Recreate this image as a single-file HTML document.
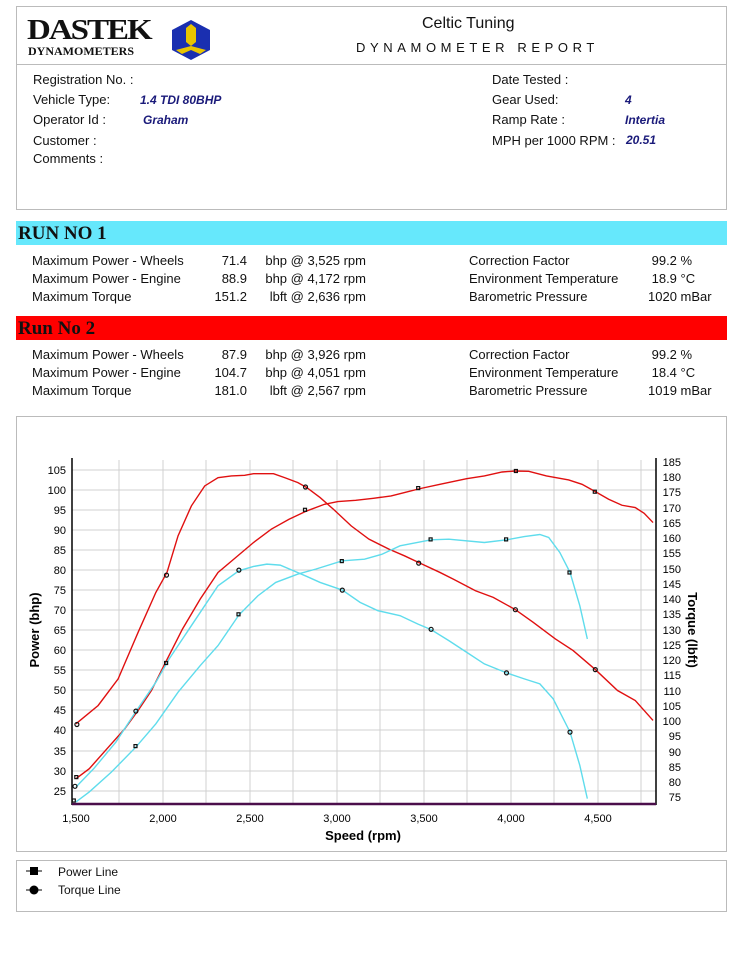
<!DOCTYPE html>
<html><head><meta charset="utf-8"><style>
body{margin:0;width:748px;height:980px;background:#fff;position:relative;font-family:"Liberation Sans",Arial,sans-serif;font-size:13px;color:#111;overflow:hidden}
.a{position:absolute;white-space:nowrap;line-height:1}
.v{color:#1a1a7a;font-weight:bold;font-style:italic}
.box{position:absolute;border:1px solid #bbb;box-sizing:border-box}
.bar{position:absolute;left:16px;width:711px;height:24px;font-family:"Liberation Serif",serif;font-weight:bold;font-size:19px;line-height:25px;padding-left:2px;box-sizing:border-box}
.r{text-align:right}
</style></head><body>
<div class="box" style="left:16px;top:6px;width:711px;height:204px"></div>
<div style="position:absolute;left:16px;top:64px;width:711px;height:1px;background:#bbb"></div>
<div class="a" style="left:27px;top:17px;font-family:'Liberation Serif',serif;font-weight:bold;font-size:33px;letter-spacing:-2px;transform:scaleY(0.85);transform-origin:top">DASTEK</div>
<div class="a" style="left:28px;top:45px;font-family:'Liberation Serif',serif;font-weight:bold;font-size:12px">DYNAMOMETERS</div>
<svg class="a" style="left:170px;top:20px" width="42" height="40" viewBox="0 0 42 40"><polygon points="21,0 40,10 40,30 21,40 2,30 2,10" fill="#1a2fb0"/><polygon points="21,4 26,8 26,22 21,26 16,22 16,8" fill="#e8c400"/><polygon points="21,26 36,30 30,34 21,30 12,34 6,30" fill="#e8c400"/></svg>
<div class="a" style="left:422px;top:16px;font-size:16px">Celtic Tuning</div>
<div class="a" style="left:356px;top:41px;font-size:13px;letter-spacing:4.6px">DYNAMOMETER REPORT</div>
<div class="a" style="left:33px;top:73px">Registration No. :</div>
<div class="a" style="left:33px;top:93px">Vehicle Type:</div><div class="a v" style="left:140px;top:94px;font-size:12px">1.4 TDI 80BHP</div>
<div class="a" style="left:33px;top:113px">Operator Id :</div><div class="a v" style="left:143px;top:114px;font-size:12px">Graham</div>
<div class="a" style="left:33px;top:134px">Customer :</div>
<div class="a" style="left:33px;top:152px">Comments :</div>
<div class="a" style="left:492px;top:73px">Date Tested :</div>
<div class="a" style="left:492px;top:93px">Gear Used:</div><div class="a v" style="left:625px;top:94px;font-size:12px">4</div>
<div class="a" style="left:492px;top:113px">Ramp Rate :</div><div class="a v" style="left:625px;top:114px;font-size:12px">Intertia</div>
<div class="a" style="left:492px;top:134px">MPH per 1000 RPM :</div><div class="a v" style="left:626px;top:134px;font-size:12px">20.51</div>

<div class="bar" style="top:221px;background:#66e8fc">RUN NO 1</div>
<div class="bar" style="top:316px;background:#ff0000">Run No 2</div>

<div class="a" style="left:32px;top:252px;line-height:18px">Maximum Power - Wheels<br>Maximum Power - Engine<br>Maximum Torque</div>
<div class="a r" style="left:190px;width:57px;top:252px;line-height:18px">71.4<br>88.9<br>151.2</div>
<div class="a r" style="left:250px;width:116px;top:252px;line-height:18px">bhp @ 3,525 rpm<br>bhp @ 4,172 rpm<br>lbft @ 2,636 rpm</div>
<div class="a" style="left:469px;top:252px;line-height:18px">Correction Factor<br>Environment Temperature<br>Barometric Pressure</div>
<div class="a" style="left:648px;top:252px;line-height:18px">&nbsp;99.2 %<br>&nbsp;18.9 °C<br>1020 mBar</div>

<div class="a" style="left:32px;top:346px;line-height:18px">Maximum Power - Wheels<br>Maximum Power - Engine<br>Maximum Torque</div>
<div class="a r" style="left:190px;width:57px;top:346px;line-height:18px">87.9<br>104.7<br>181.0</div>
<div class="a r" style="left:250px;width:116px;top:346px;line-height:18px">bhp @ 3,926 rpm<br>bhp @ 4,051 rpm<br>lbft @ 2,567 rpm</div>
<div class="a" style="left:469px;top:346px;line-height:18px">Correction Factor<br>Environment Temperature<br>Barometric Pressure</div>
<div class="a" style="left:648px;top:346px;line-height:18px">&nbsp;99.2 %<br>&nbsp;18.4 °C<br>1019 mBar</div>

<div class="box" style="left:16px;top:416px;width:711px;height:436px"></div>
<svg class="a" style="left:0;top:0" width="748" height="980" viewBox="0 0 748 980" font-family="Liberation Sans, sans-serif" font-size="11">
<g stroke="#d0d0d0" stroke-width="1">
<line x1="72" y1="470" x2="656" y2="470"/><line x1="72" y1="490" x2="656" y2="490"/><line x1="72" y1="510" x2="656" y2="510"/><line x1="72" y1="530" x2="656" y2="530"/><line x1="72" y1="550" x2="656" y2="550"/><line x1="72" y1="570" x2="656" y2="570"/><line x1="72" y1="590" x2="656" y2="590"/><line x1="72" y1="610" x2="656" y2="610"/><line x1="72" y1="630" x2="656" y2="630"/><line x1="72" y1="650" x2="656" y2="650"/><line x1="72" y1="670" x2="656" y2="670"/><line x1="72" y1="690" x2="656" y2="690"/><line x1="72" y1="710" x2="656" y2="710"/><line x1="72" y1="730" x2="656" y2="730"/><line x1="72" y1="751" x2="656" y2="751"/><line x1="72" y1="771" x2="656" y2="771"/><line x1="72" y1="791" x2="656" y2="791"/>
<line x1="119" y1="460" x2="119" y2="804"/><line x1="163" y1="460" x2="163" y2="804"/><line x1="206" y1="460" x2="206" y2="804"/><line x1="250" y1="460" x2="250" y2="804"/><line x1="293" y1="460" x2="293" y2="804"/><line x1="337" y1="460" x2="337" y2="804"/><line x1="380" y1="460" x2="380" y2="804"/><line x1="424" y1="460" x2="424" y2="804"/><line x1="467" y1="460" x2="467" y2="804"/><line x1="511" y1="460" x2="511" y2="804"/><line x1="554" y1="460" x2="554" y2="804"/><line x1="598" y1="460" x2="598" y2="804"/><line x1="641" y1="460" x2="641" y2="804"/>
</g>
<line x1="72" y1="458" x2="72" y2="805" stroke="#000" stroke-width="1.5"/>
<line x1="656" y1="458" x2="656" y2="805" stroke="#000" stroke-width="1.5"/>
<line x1="72" y1="804" x2="656" y2="804" stroke="#4b0f4b" stroke-width="2.5"/>
<g text-anchor="end">
<text x="66" y="474">105</text><text x="66" y="494">100</text><text x="66" y="514">95</text><text x="66" y="534">90</text><text x="66" y="554">85</text><text x="66" y="574">80</text><text x="66" y="594">75</text><text x="66" y="614">70</text><text x="66" y="634">65</text><text x="66" y="654">60</text><text x="66" y="674">55</text><text x="66" y="694">50</text><text x="66" y="714">45</text><text x="66" y="734">40</text><text x="66" y="755">35</text><text x="66" y="775">30</text><text x="66" y="795">25</text>
</g>
<g text-anchor="end">
<text x="681" y="466">185</text><text x="681" y="481">180</text><text x="681" y="496">175</text><text x="681" y="512">170</text><text x="681" y="527">165</text><text x="681" y="542">160</text><text x="681" y="557">155</text><text x="681" y="573">150</text><text x="681" y="588">145</text><text x="681" y="603">140</text><text x="681" y="618">135</text><text x="681" y="634">130</text><text x="681" y="649">125</text><text x="681" y="664">120</text><text x="681" y="679">115</text><text x="681" y="695">110</text><text x="681" y="710">105</text><text x="681" y="725">100</text><text x="681" y="740">95</text><text x="681" y="756">90</text><text x="681" y="771">85</text><text x="681" y="786">80</text><text x="681" y="801">75</text>
</g>
<g text-anchor="middle">
<text x="76" y="822">1,500</text><text x="163" y="822">2,000</text><text x="250" y="822">2,500</text><text x="337" y="822">3,000</text><text x="424" y="822">3,500</text><text x="511" y="822">4,000</text><text x="598" y="822">4,500</text>
<text x="363" y="840" font-weight="bold" font-size="13">Speed (rpm)</text>
<text transform="translate(39,630) rotate(-90)" font-weight="bold" font-size="13">Power (bhp)</text>
<text transform="translate(688,630) rotate(90)" font-weight="bold" font-size="13">Torque (lbft)</text>
</g>
<g transform="translate(22.7,439.4) scale(0.4439,0.3326)" fill="none" stroke-width="1.4">
<polyline vector-effect="non-scaling-stroke" stroke="#e01010" points="120,855 170,800 215,720 260,580 300,460 325,400 350,290 380,200 410,140 440,115 470,110 500,108 520,103 565,103 590,115 620,130 640,145 670,175 700,210 740,260 780,300 825,330 860,350 895,372 940,400 970,420 1020,455 1060,475 1110,512 1150,550 1200,600 1240,635 1290,692 1340,755 1380,785 1420,845"/>
<polyline vector-effect="non-scaling-stroke" stroke="#e01010" points="120,1020 150,990 190,930 230,870 260,815 290,755 320,675 360,570 400,480 440,400 480,355 520,310 560,270 600,240 640,215 680,195 710,187 750,183 790,177 830,170 860,160 895,148 940,135 1000,118 1040,110 1080,98 1110,95 1140,96 1180,110 1230,122 1260,135 1290,157 1320,180 1350,198 1380,205 1400,222 1420,250"/>
<polyline vector-effect="non-scaling-stroke" stroke="#5fdcec" points="120,1090 150,1060 200,1000 255,925 300,855 350,760 400,680 440,620 487,528 530,470 570,430 620,405 660,390 720,365 770,360 810,345 850,320 920,302 960,300 1040,310 1090,302 1130,292 1165,286 1185,295 1210,340 1233,400 1255,500 1272,600"/>
<polyline vector-effect="non-scaling-stroke" stroke="#5fdcec" points="120,1045 160,990 210,910 255,818 300,730 330,660 370,580 410,500 440,440 487,395 520,382 550,375 580,378 610,395 640,412 670,430 720,453 760,490 800,515 850,530 890,555 920,572 960,605 1000,640 1040,675 1090,702 1130,720 1165,735 1195,780 1233,880 1255,980 1272,1080"/>
</g>
<g fill="none" stroke="#111" stroke-width="1.2">
<circle cx="76.9" cy="724.5" r="2"/><circle cx="166.5" cy="575.1" r="2"/><circle cx="305.5" cy="487" r="2"/><circle cx="418.7" cy="563.1" r="2"/><circle cx="515.4" cy="609.7" r="2"/><circle cx="595.3" cy="669.6" r="2"/>
<circle cx="75" cy="786.3" r="2"/><circle cx="135.9" cy="711.1" r="2"/><circle cx="238.9" cy="570.1" r="2"/><circle cx="342.3" cy="590.1" r="2"/><circle cx="431.1" cy="629.3" r="2"/><circle cx="506.5" cy="672.9" r="2"/><circle cx="570" cy="732.1" r="2"/>
<rect x="74.8" y="775.6" width="3" height="3"/><rect x="164.6" y="661.5" width="3" height="3"/><rect x="303.5" y="508.3" width="3" height="3"/><rect x="416.7" y="486.6" width="3" height="3"/><rect x="514.4" y="469.5" width="3" height="3"/><rect x="593.3" y="490.2" width="3" height="3"/>
<rect x="72.3" y="799" width="3" height="3"/><rect x="134" y="744.6" width="3" height="3"/><rect x="237" y="612.8" width="3" height="3"/><rect x="340.3" y="559.6" width="3" height="3"/><rect x="429.1" y="537.9" width="3" height="3"/><rect x="504.6" y="537.9" width="3" height="3"/><rect x="568" y="571" width="3" height="3"/>
</g>
</svg>

<div class="box" style="left:16px;top:860px;width:711px;height:52px"></div>
<svg class="a" style="left:26px;top:865px" width="20" height="32"><line x1="0" y1="6" x2="16" y2="6" stroke="#000"/><rect x="4" y="2" width="8" height="8" fill="#000"/><line x1="0" y1="25" x2="16" y2="25" stroke="#000"/><circle cx="8" cy="25" r="4.5" fill="#000"/></svg>
<div class="a" style="left:58px;top:866px;font-size:12px">Power Line</div>
<div class="a" style="left:58px;top:884px;font-size:12px">Torque Line</div>
</body></html>
